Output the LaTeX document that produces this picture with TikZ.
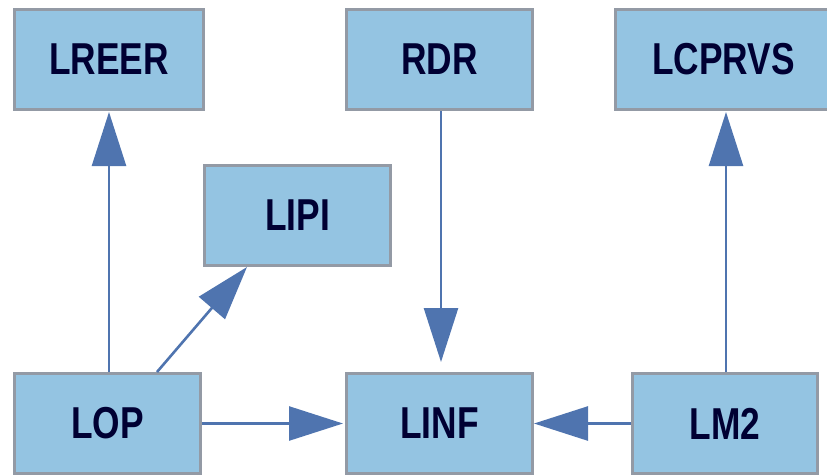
\documentclass[tikz,border=0pt]{standalone}
\usepackage{fontspec}
\usetikzlibrary{arrows.meta}
\newfontfamily\boxfont{Liberation Sans}[FakeStretch=0.79]
\definecolor{boxfill}{HTML}{94C4E2}
\definecolor{boxedge}{HTML}{939AA5}
\definecolor{boxtext}{HTML}{000033}
\definecolor{linkblue}{HTML}{4F74AF}
\begin{document}
\begin{tikzpicture}[x=1pt,y=-1pt,
  module/.style={draw=boxedge, fill=boxfill, line width=3pt,
    minimum width=186pt, minimum height=100pt, inner sep=0pt,
    text=boxtext, font=\boxfont\bfseries\fontsize{44.7}{50}\selectfont},
  link/.style={draw=linkblue, line width=2.6pt,
    -{Triangle[length=54pt,width=34pt]}}]
\useasboundingbox (0,0) rectangle (827,475);
\clip (0,0) rectangle (827,475);

% modules
\node[module, minimum width=189pt] (lreer) at (109,59.5) {LREER};
\node[module] (rdr) at (439.5,59.5) {RDR};
\node[module, minimum width=216pt] (lcprvs) at (723.5,59.5) {LCPRVS};
\node[module] (lipi) at (297.5,215.5) {LIPI};
\node[module] (lop) at (107.5,423.5) {LOP};
\node[module] (linf) at (439.5,423.5) {LINF};
\node[module, minimum width=185pt] (lm2) at (725,423.5) {LM2};

% dependencies
\draw[link, shorten >=1pt] ([xshift=1.5pt]lop.north) -- ([xshift=1.5pt]lop.north |- lreer.south);
\draw[link] ([xshift=49.5pt]lop.north) -- ([xshift=-50.5pt]lipi.south);
\draw[link, shorten >=2pt] (lop.east) -- (linf.west);
\draw[link, shorten >=10pt] ([xshift=1.5pt]rdr.south) -- ([xshift=1.5pt]linf.north);
\draw[link] (lm2.west) -- (linf.east);
\draw[link, shorten >=1pt] ([xshift=1pt]lm2.north) -- ([xshift=1pt]lm2.north |- lcprvs.south);
\end{tikzpicture}
\end{document}
